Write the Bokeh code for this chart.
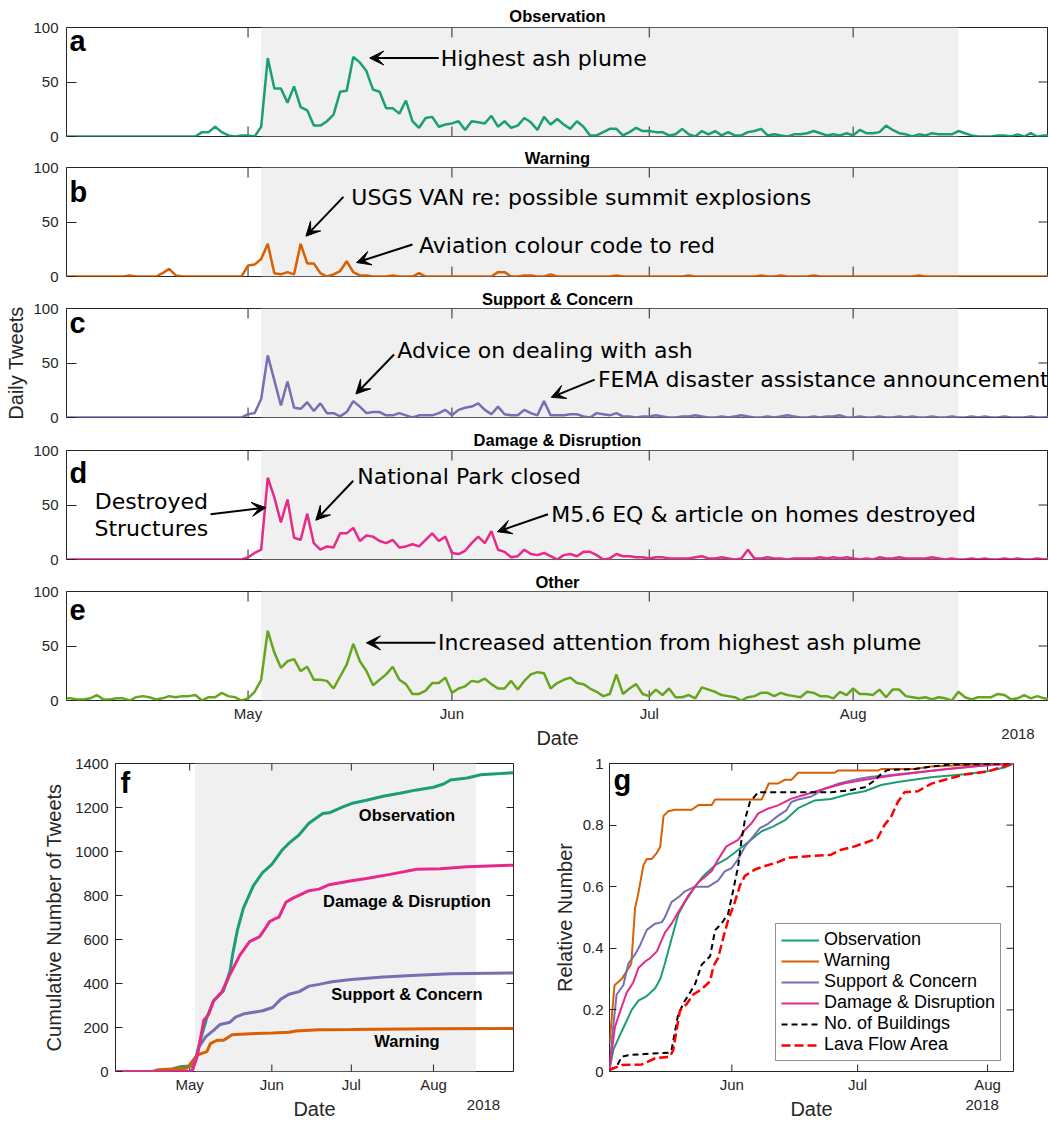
from bokeh.plotting import figure
from bokeh.layouts import column, row
from bokeh.models import (BoxAnnotation, Label, Arrow, VeeHead, FixedTicker,
                          Range1d, Legend, LegendItem, NumeralTickFormatter)
from bokeh.embed import file_html
from bokeh.resources import INLINE

# ---------------- data (x = day of year 2018) ----------------
first_day = 93                      # 3 April 2018
month_ticks = [121, 152, 182, 213]
month_names = ["May", "Jun", "Jul", "Aug"]
year_text = "2018"
eruption_period = [123, 229]        # shaded: 3 May .. 17 Aug
daily_ticks = [0, 50, 100]
cum_ticks = [0, 200, 400, 600, 800, 1000, 1200, 1400]
rel_ticks = [0, 0.2, 0.4, 0.6, 0.8, 1.0]

obs_daily = [0, 0, 0, 0, 0, 0, 0, 0, 0, 0, 0, 0, 0, 0, 0, 0, 0, 0, 0, 0,
             0, 4, 4, 9, 4, 1, 0, 1, 1, 0,
             9, 72, 44, 44, 31, 46, 27, 24, 10, 10,
             14, 20, 41, 42, 73, 68, 60, 43, 41, 26,
             26, 21, 33, 14, 8, 17, 18, 9, 11, 12,
             14, 6, 14, 13, 12, 19, 9, 14, 8,
             10, 17, 13, 6, 18, 11, 16, 11, 7, 14,
             9, 1, 1, 4, 7, 7, 1, 4, 8, 5,
             5, 4, 4, 1, 2, 7, 2, 0, 5, 2,
             5, 1, 4, 1, 1, 4, 5, 7, 1, 2,
             1, 0, 2, 2, 3, 5, 3, 1, 2, 1,
             3, 1, 6, 3, 3, 4, 10, 6, 3, 2,
             0, 2, 1, 3, 2, 2, 2, 5, 3, 1,
             0, 0, 0, 1, 1, 0, 2, 0, 3, 0,
             1, 1]

warn_daily = [0, 0, 0, 0, 0, 0, 0, 0, 0,
              0, 1, 0, 0, 0, 0, 3, 7, 1, 0,
              0, 0, 0, 0, 0, 0, 0, 0, 0,
              10, 11, 16, 30, 3, 2, 4, 2, 30, 12,
              12, 3, 0, 2, 5, 14, 4, 1, 1, 0,
              0, 0, 1, 0, 0, 0, 3, 0, 0, 0,
              0, 0, 0, 0, 0, 0, 0, 0,
              4, 4, 0,
              0, 1, 1, 0, 0, 2, 0, 0, 0, 0,
              0, 0, 0, 0, 0, 1, 0, 0, 0, 0,
              0, 0, 0, 0, 0, 0, 1, 0, 0, 0,
              0, 0, 0, 0, 0, 0, 0, 1, 0, 0,
              1, 0, 0, 0, 0, 1, 0, 0, 0, 0,
              0, 0, 0, 0, 0, 0, 0, 0, 0, 0,
              0, 1, 0, 0, 0, 0, 0, 0, 0, 0,
              0, 0, 0, 0, 0, 0, 0, 0, 0, 0,
              0, 0]

sup_daily = [0, 0, 0, 0, 0, 0, 0, 0, 0, 0, 0, 0, 0, 0,
             0, 0, 0, 0, 0, 0, 0, 0, 0, 0, 0, 0, 0, 0,
             3, 4, 17, 57, 34, 11, 33, 9, 8, 14,
             6, 13, 4, 4, 1, 5, 15, 10, 4, 5,
             5, 2, 2, 4, 2, 0, 2, 2, 2, 4,
             7, 2, 7, 9, 10, 13, 7, 3, 10, 3,
             2,
             2, 7, 4, 2, 15, 2, 2, 2, 3, 3, 1, 0, 4, 3, 2, 4, 1,
             1, 0, 1, 1, 2, 1, 0, 0, 1, 1,
             2, 1, 0, 0, 1, 0, 1, 2, 1, 0,
             0, 1, 0, 1, 2, 1, 0, 0, 1, 0,
             1, 1, 2, 0, 0, 1, 0, 0, 1, 0,
             0, 1, 0, 1, 0, 0, 1, 0, 0, 1,
             0, 0, 1, 0, 1, 0, 0, 1, 0, 0,
             0, 1, 0, 0, 1]

dmg_daily = [0, 0, 0, 0, 0, 0, 0, 0, 0, 0, 0, 0, 0, 0,
             0, 0, 0, 0, 0, 0, 0, 0, 0, 0, 0, 0, 0, 0,
             2, 6, 9, 75, 57, 34, 55, 20, 18, 42,
             15, 9, 12, 11, 24, 24, 29, 17, 22, 21,
             17, 15, 18, 11, 12, 14, 12, 18, 24, 17,
             21, 6, 5, 8, 15, 21, 15, 26, 9, 7,
             2,
             3, 9, 5, 4, 6, 3, 0, 4, 5, 3,
             7, 7, 4, 0, 1, 5, 3, 3, 2, 2,
             1, 2, 2, 1, 1, 1, 1, 2, 3, 1,
             1, 2, 1, 0, 1, 9, 1, 1, 2, 1,
             1, 0, 1, 1, 1, 1, 2, 1, 2, 1,
             2, 1, 0, 1, 0, 2, 1, 1, 2, 1,
             1, 1, 1, 2, 1, 0, 1, 0, 0, 1,
             0, 1, 0, 0, 1, 0, 1, 0, 0, 1,
             0, 1]

oth_daily = [2, 2, 1, 1, 2, 5, 1, 1, 2, 2,
             0, 3, 4, 3, 1, 2, 4, 3, 4, 4,
             5, 0, 3, 3, 7, 4, 3, 0, 2, 8,
             19, 64, 44, 30, 36, 38, 27, 31, 19, 19,
             18, 11, 22, 33, 52, 36, 27, 14, 19, 24,
             31, 19, 15, 6, 6, 9, 16, 16, 21, 7,
             11, 13, 18, 17, 20, 15, 11, 11, 18,
             10, 18, 24, 26, 25, 11, 16, 19, 21, 16,
             15, 11, 8, 4, 6, 24, 6, 11, 15, 6,
             4, 10, 5, 11, 3, 3, 5, 2, 12, 10,
             8, 5, 4, 3, 0, 3, 4, 7, 7, 4,
             7, 5, 4, 3, 8, 7, 4, 4, 2, 8,
             5, 11, 6, 6, 5, 10, 3, 10, 10, 4,
             3, 2, 3, 1, 3, 2, 0, 8, 3, 1,
             3, 3, 3, 6, 5, 1, 2, 5, 2, 4,
             2, 1]

# cumulative tweets (panel f)
cum_obs_day = [93, 112, 114, 116, 118, 122, 123, 125, 127.5, 130, 133.7, 136.2, 137.4, 139, 141.2,
               145, 148.5, 152, 156, 158.5, 162.3, 166, 171.2, 173.7, 178.8, 182, 187.7, 194,
               200.3, 206.7, 213, 216.8, 219.4, 225.7, 230.8, 238.4, 243.2]
cum_obs = [0, 0, 8, 17, 23, 25, 45, 142, 246, 321, 366, 456, 545, 642, 740,
           844, 904, 941, 1008, 1038, 1076, 1128, 1173, 1176, 1203, 1218, 1233, 1251,
           1265, 1280, 1292, 1307, 1325, 1334, 1349, 1354, 1358]
cum_dmg_day = [93, 121, 122, 123.8, 126.3, 128.2, 130, 133.2, 136.2, 140, 143.6, 147.4, 149.9, 151,
               152.5, 154.7, 157.3, 159.8, 166, 169.8, 173.7, 182, 187.7, 196.6, 206.7, 215.6,
               225.7, 243.2]
cum_dmg = [0, 0, 5, 67, 232, 261, 321, 363, 441, 530, 590, 613, 657, 680,
           690, 702, 769, 787, 822, 829, 849, 867, 877, 896, 919, 922,
           931, 938]
cum_sup_day = [93, 121, 122, 124.5, 127, 130, 132.5, 136.2, 138.3, 141.2, 145, 148.5, 152.3, 155.4,
               158.5, 162.3, 166, 169.8, 174.7, 182, 194, 206.7, 219.4, 243.2]
cum_sup = [0, 0, 3, 112, 157, 187, 214, 224, 247, 261, 269, 276, 291, 329,
           351, 363, 388, 396, 408, 418, 429, 438, 444, 448]
cum_warn_day = [93, 107, 109, 120, 121.9, 123.8, 127.5, 128.8, 131.3, 133.8, 135.7, 137, 143.9,
                152.3, 158.5, 161, 169.8, 182, 213, 243.2]
cum_warn = [0, 0, 8, 15, 45, 75, 90, 127, 142, 142, 157, 167, 172,
            175, 178, 184, 190, 191, 194, 196]

# relative numbers (panel g)
rel_obs_day = [122.8, 123.7, 125.7, 128.1, 129.7, 131.7, 133.7, 134.9, 136.0, 137.6, 139.2, 140.8,
               143.2, 145.2, 148.0, 150.7, 153.1, 155.9, 159.1, 161.8, 164.6, 167.8, 171.8, 175.7,
               179.7, 183.7, 187.6, 191.6, 199.5, 207.5, 213.0, 217.0, 219.2]
rel_obs = [0.005, 0.07, 0.13, 0.20, 0.23, 0.245, 0.27, 0.30, 0.35, 0.43, 0.51, 0.55,
           0.60, 0.635, 0.67, 0.69, 0.715, 0.745, 0.78, 0.795, 0.815, 0.855, 0.88, 0.885,
           0.90, 0.91, 0.93, 0.94, 0.955, 0.965, 0.975, 0.987, 1.0]
rel_warn_day = [122.8, 124.0, 125.7, 128.0, 128.9, 129.7, 130.9, 131.7, 132.9, 134.1, 134.9, 135.7,
                136.8, 138.4, 142.4, 144.0, 147.2, 148.0, 159.1, 160.8, 163.0, 164.6, 166.2, 167.8,
                176.5, 177.3, 186.8, 187.6, 195.6, 199.5, 207.5, 219.2]
rel_warn = [0.09, 0.28, 0.30, 0.35, 0.53, 0.58, 0.67, 0.69, 0.69, 0.71, 0.73, 0.83,
            0.845, 0.85, 0.85, 0.865, 0.865, 0.883, 0.883, 0.935, 0.935, 0.947, 0.947, 0.97,
            0.97, 0.977, 0.977, 0.982, 0.982, 0.99, 0.995, 1.0]
rel_sup_day = [122.8, 123.4, 124.5, 126.1, 127.3, 128.9, 130.1, 131.7, 133.7, 135.3, 136.0, 137.6,
               139.6, 140.8, 143.2, 146.4, 148.7, 150.3, 151.9, 153.5, 155.1, 157.1, 158.7, 160.7,
               163.0, 165.0, 166.2, 167.8, 171.0, 174.1, 177.3, 182.1, 185.3, 188.4, 195.6, 203.5,
               211.4, 219.2]
rel_sup = [0.005, 0.11, 0.25, 0.28, 0.35, 0.38, 0.41, 0.46, 0.48, 0.485, 0.50, 0.55,
           0.57, 0.585, 0.60, 0.60, 0.62, 0.65, 0.66, 0.69, 0.73, 0.763, 0.79, 0.805,
           0.83, 0.848, 0.875, 0.883, 0.893, 0.918, 0.934, 0.95, 0.957, 0.96, 0.971, 0.982,
           0.993, 1.0]
rel_dmg_day = [122.8, 124.1, 125.7, 126.9, 128.5, 129.7, 131.3, 132.5, 134.1, 136.0, 137.6, 139.2,
               141.6, 144.0, 147.2, 148.7, 150.7, 153.5, 155.1, 156.7, 158.3, 160.7, 163.0, 166.2,
               170.2, 174.1, 178.9, 183.7, 190.0, 196.4, 203.5, 211.4, 219.2]
rel_dmg = [0.005, 0.145, 0.21, 0.256, 0.29, 0.336, 0.357, 0.368, 0.39, 0.45, 0.48, 0.517,
           0.571, 0.614, 0.651, 0.688, 0.731, 0.752, 0.784, 0.806, 0.838, 0.854, 0.864, 0.886,
           0.902, 0.918, 0.936, 0.947, 0.96, 0.971, 0.982, 0.993, 1.0]
rel_bldg_day = [122.8, 124.5, 125.7, 127.3, 131.3, 136.8, 137.6, 139.2, 140.8, 142.0, 143.2, 144.8,
                146.8, 148.0, 149.5, 151.1, 152.3, 153.5, 154.3, 155.1, 156.3, 158.3, 175.7, 179.7,
                183.7, 186.0, 187.6, 189.2, 195.6, 199.5, 203.5, 219.2]
rel_bldg = [0.005, 0.016, 0.048, 0.053, 0.057, 0.061, 0.069, 0.187, 0.23, 0.256, 0.283, 0.347,
            0.374, 0.459, 0.48, 0.512, 0.587, 0.667, 0.752, 0.816, 0.875, 0.907, 0.907, 0.912,
            0.923, 0.944, 0.966, 0.979, 0.982, 0.99, 0.996, 1.0]
rel_lava_day = [122.8, 125.7, 130.5, 133.7, 137.2, 138.0, 139.6, 141.2, 142.8, 144.8, 146.8, 147.6,
                148.7, 149.9, 151.1, 152.7, 153.9, 155.1, 157.5, 159.9, 163.0, 165.4, 170.2, 175.7,
                178.1, 181.3, 183.7, 186.8, 188.4, 190.0, 191.6, 193.2, 196.4, 199.5, 203.5, 207.5,
                213.0, 219.2]
rel_lava = [0.005, 0.021, 0.023, 0.043, 0.048, 0.069, 0.197, 0.219, 0.25, 0.267, 0.293, 0.342,
            0.368, 0.432, 0.491, 0.55, 0.603, 0.635, 0.656, 0.667, 0.68, 0.694, 0.699, 0.704,
            0.72, 0.731, 0.742, 0.758, 0.80, 0.827, 0.875, 0.907, 0.91, 0.934, 0.95, 0.964,
            0.974, 1.0]

# ---------------- styling / geometry ----------------
INK = "#262626"
HELV = "Liberation Sans"
NOTE = "DejaVu Sans"
SHADE = "#f0f0f0"
C_OBS, C_WARN, C_SUP, C_DMG, C_OTH = "#1b9e77", "#d95f02", "#7570b3", "#e7298a", "#66a61e"

days = list(range(first_day, first_day + len(obs_daily)))

TOP_FW, TOP_FH = 982, 109
TOP_X = (93.4, 242.7)
TOP_Y = (0, 100)
TOP_PXD = TOP_FW / (TOP_X[1] - TOP_X[0])
TOP_PXU = TOP_FH / 100.0
TITLE_H = 20          # measured height of the 16.5px bold title text

F_FW, F_FH = 398, 308
F_X = (93.0, 243.2)
F_Y = (0, 1400)
G_FW, G_FH = 404, 308
G_X = (122.8, 219.2)
G_Y = (0, 1)

YEAR_STANDOFF = -18   # pulls "Date" up to the level of the year line


def style_axis(ax, tick_len, size="15px", standoff=8):
    ax.axis_line_color = None
    ax.major_tick_in = tick_len
    ax.major_tick_out = 0
    ax.minor_tick_in = 0
    ax.minor_tick_out = 0
    ax.minor_tick_line_color = None
    ax.major_tick_line_color = INK
    ax.major_tick_line_width = 1
    ax.major_label_text_font = HELV
    ax.major_label_text_color = INK
    ax.major_label_text_font_size = size
    ax.major_label_standoff = standoff
    ax.axis_label_text_font = HELV
    ax.axis_label_text_font_style = "normal"
    ax.axis_label_text_font_size = "20px"
    ax.axis_label_text_color = INK


def date_axis(ax, ticks, year_pos):
    """Month ticks plus the year written on a second line (MATLAB style)."""
    ax.ticker = FixedTicker(ticks=list(ticks) + [year_pos])
    labels = dict(zip(month_ticks, month_names))
    labels[year_pos] = "\n" + year_text
    ax.major_label_overrides = labels
    style_axis(ax, 0, standoff=4)
    ax.axis_label = "Date"
    ax.axis_label_standoff = YEAR_STANDOFF


def frame_style(p):
    p.outline_line_color = INK
    p.outline_line_width = 1
    p.outline_line_alpha = 1
    p.xgrid.visible = False
    p.ygrid.visible = False
    p.background_fill_color = "white"
    p.border_fill_color = "white"


def frame_ticks(p, xr, yr, fw, fh, xticks, yticks, tick_len):
    """Inward tick marks on the top, bottom and right frame edges."""
    dx = tick_len * (xr[1] - xr[0]) / fw
    dy = tick_len * (yr[1] - yr[0]) / fh
    n = len(xticks)
    p.segment(x0=xticks, y0=[yr[1]] * n, x1=xticks, y1=[yr[1] - dy] * n,
              line_color=INK, line_width=1)
    p.segment(x0=xticks, y0=[yr[0]] * n, x1=xticks, y1=[yr[0] + dy] * n,
              line_color=INK, line_width=1)
    m = len(yticks)
    p.segment(x0=[xr[1]] * m, y0=yticks, x1=[xr[1] - dx] * m, y1=yticks,
              line_color=INK, line_width=1)


def note(p, text, x, y, align="left"):
    p.add_layout(Label(x=x, y=y, text=text, text_font=NOTE, text_font_size="22px",
                       text_color="black", text_align=align, text_baseline="middle"))


def arrow(p, x0, y0, x1, y1):
    p.add_layout(Arrow(end=VeeHead(size=14, fill_color="black", line_color="black", line_width=1),
                       x_start=x0, y_start=y0, x_end=x1, y_end=y1,
                       line_color="black", line_width=2))


def letter(p, text, x, y):
    p.add_layout(Label(x=x, y=y, text=text, text_font=HELV, text_font_style="bold",
                       text_font_size="29px", text_color="black",
                       text_align="left", text_baseline="middle"))


def top_panel(title, values, color, let, let_mid, bt, bb, ylabel=None, dates=False):
    p = figure(frame_width=TOP_FW, frame_height=TOP_FH,
               x_range=Range1d(*TOP_X), y_range=Range1d(*TOP_Y),
               output_backend="svg", toolbar_location=None,
               min_border_left=66, min_border_right=0,
               min_border_top=bt, min_border_bottom=bb)
    p.title.text = title
    p.title.align = "center"
    p.title.text_font = HELV
    p.title.text_font_style = "bold"
    p.title.text_font_size = "16.5px"
    p.title.text_color = "black"
    p.title.standoff = max(1, min(5, bt - TITLE_H))
    p.title.offset = 0
    frame_style(p)
    p.add_layout(BoxAnnotation(left=eruption_period[0], right=eruption_period[1],
                               fill_color=SHADE, fill_alpha=1, line_color=None, level="underlay"))
    frame_ticks(p, TOP_X, TOP_Y, TOP_FW, TOP_FH, month_ticks, daily_ticks, 10)
    p.line(days, values, line_color=color, line_width=2.5)
    xa = p.xaxis[0]
    ya = p.yaxis[0]
    ya.ticker = FixedTicker(ticks=daily_ticks)
    style_axis(ya, 10, standoff=8)
    if ylabel:
        ya.axis_label = ylabel
        ya.axis_label_standoff = 3
    if dates:
        date_axis(xa, month_ticks, TOP_X[0] + (1017.5 - 66) / TOP_PXD)
    else:
        xa.visible = False
    letter(p, let, TOP_X[0] + 3 / TOP_PXD, 100 - let_mid / TOP_PXU)
    return p


pa = top_panel("Observation", obs_daily, C_OBS, "a", 13.5, 27, 10)
note(pa, "Highest ash plume", 150.3, 72)
arrow(pa, 150.0, 72, 139.5, 72)

pb = top_panel("Warning", warn_daily, C_WARN, "b", 24, 21, 10)
note(pb, "USGS VAN re: possible summit explosions", 136.7, 72.5)
arrow(pb, 135.5, 73, 129.8, 37)
note(pb, "Aviation colour code to red", 147.0, 28.7)
arrow(pb, 146.0, 29.4, 137.5, 12.8)

pc = top_panel("Support & Concern", sup_daily, C_SUP, "c", 14, 22, 10, ylabel="Daily Tweets")
note(pc, "Advice on dealing with ash", 143.7, 61.5)
arrow(pc, 143.2, 57.8, 137.4, 21.6)
note(pc, "FEMA disaster assistance announcement", 174.2, 34.8)
arrow(pc, 173.7, 34.8, 167.1, 18.5)

pd_ = top_panel("Damage & Disruption", dmg_daily, C_DMG, "d", 22, 23, 10)
note(pd_, "Destroyed", 106.3, 53.5, align="center")
note(pd_, "Structures", 106.3, 28.2, align="center")
arrow(pd_, 115.3, 41.5, 123.7, 47.6)
note(pd_, "National Park closed", 137.6, 76.3)
arrow(pd_, 137.0, 72.3, 131.3, 36)
note(pd_, "M5.6 EQ & article on homes destroyed", 167.1, 41.5)
arrow(pd_, 166.6, 41.5, 158.9, 25.5)

pe = top_panel("Other", oth_daily, C_OTH, "e", 18, 22, 51, dates=True)
note(pe, "Increased attention from highest ash plume", 149.9, 52.9)
arrow(pe, 149.5, 52.9, 139.0, 52.9)

# ---------------- panel f ----------------
pf = figure(frame_width=F_FW, frame_height=F_FH, x_range=Range1d(*F_X), y_range=Range1d(*F_Y),
            output_backend="svg", toolbar_location=None,
            min_border_left=115, min_border_right=37, min_border_top=12, min_border_bottom=51)
frame_style(pf)
pf.add_layout(BoxAnnotation(left=eruption_period[0], right=eruption_period[1],
                            fill_color=SHADE, fill_alpha=1, line_color=None, level="underlay"))
frame_ticks(pf, F_X, F_Y, F_FW, F_FH, month_ticks, cum_ticks, 7)
pf.line(cum_obs_day, cum_obs, line_color=C_OBS, line_width=3)
pf.line(cum_warn_day, cum_warn, line_color=C_WARN, line_width=3)
pf.line(cum_sup_day, cum_sup, line_color=C_SUP, line_width=3)
pf.line(cum_dmg_day, cum_dmg, line_color=C_DMG, line_width=3)
F_PXU = F_FH / (F_Y[1] - F_Y[0])
F_PXD = F_FW / (F_X[1] - F_X[0])
fx = pf.xaxis[0]
fy = pf.yaxis[0]
date_axis(fx, month_ticks, F_X[0] + (483 - 115) / F_PXD)
fy.ticker = FixedTicker(ticks=cum_ticks)
style_axis(fy, 7, standoff=7)
fy.axis_label = "Cumulative Number of Tweets"
fy.axis_label_standoff = 7
letter(pf, "f", F_X[0] + 5 / F_PXD, F_Y[1] - 19 / F_PXU)
for txt, yv in [("Observation", 1165), ("Damage & Disruption", 774),
                ("Support & Concern", 354), ("Warning", 139)]:
    pf.add_layout(Label(x=203, y=yv, text=txt, text_font=HELV, text_font_style="bold",
                        text_font_size="16.5px", text_color="black",
                        text_align="center", text_baseline="middle"))

# ---------------- panel g ----------------
pg = figure(frame_width=G_FW, frame_height=G_FH, x_range=Range1d(*G_X), y_range=Range1d(*G_Y),
            output_backend="svg", toolbar_location=None,
            min_border_left=58, min_border_right=36, min_border_top=12, min_border_bottom=51)
frame_style(pg)
g_ticks = month_ticks[1:]
frame_ticks(pg, G_X, G_Y, G_FW, G_FH, g_ticks, rel_ticks, 7)
r1 = pg.line(rel_obs_day, rel_obs, line_color=C_OBS, line_width=2)
r2 = pg.line(rel_warn_day, rel_warn, line_color=C_WARN, line_width=2)
r3 = pg.line(rel_sup_day, rel_sup, line_color=C_SUP, line_width=2)
r4 = pg.line(rel_dmg_day, rel_dmg, line_color=C_DMG, line_width=2)
r5 = pg.line(rel_bldg_day, rel_bldg, line_color="black", line_width=2, line_dash="6 4")
r6 = pg.line(rel_lava_day, rel_lava, line_color="red", line_width=2.5, line_dash="9 4")
G_PXD = G_FW / (G_X[1] - G_X[0])
gx = pg.xaxis[0]
gy = pg.yaxis[0]
date_axis(gx, g_ticks, G_X[0] + (980.7 - 608) / G_PXD)
gy.ticker = FixedTicker(ticks=rel_ticks)
gy.formatter = NumeralTickFormatter(format="0.[0]")
style_axis(gy, 7, standoff=6)
gy.axis_label = "Relative Number"
gy.axis_label_standoff = 4
letter(pg, "g", G_X[0] + 4 / G_PXD, 1 - 16 / G_FH)
legend = Legend(items=[LegendItem(label="Observation", renderers=[r1]),
                       LegendItem(label="Warning", renderers=[r2]),
                       LegendItem(label="Support & Concern", renderers=[r3]),
                       LegendItem(label="Damage & Disruption", renderers=[r4]),
                       LegendItem(label="No. of Buildings", renderers=[r5]),
                       LegendItem(label="Lava Flow Area", renderers=[r6])],
                location=(166, 10))
legend.label_text_font = HELV
legend.label_text_font_size = "18px"
legend.label_text_color = "black"
legend.glyph_width = 38
legend.glyph_height = 18
legend.label_height = 18
legend.label_standoff = 5
legend.spacing = 0
legend.padding = 5
legend.margin = 0
legend.border_line_color = INK
legend.border_line_width = 1
legend.background_fill_color = "white"
legend.background_fill_alpha = 1
pg.add_layout(legend)

layout = column(pa, pb, pc, pd_, pe, row(pf, pg, spacing=0), spacing=0)
open("out.html", "w").write(file_html(layout, INLINE))
